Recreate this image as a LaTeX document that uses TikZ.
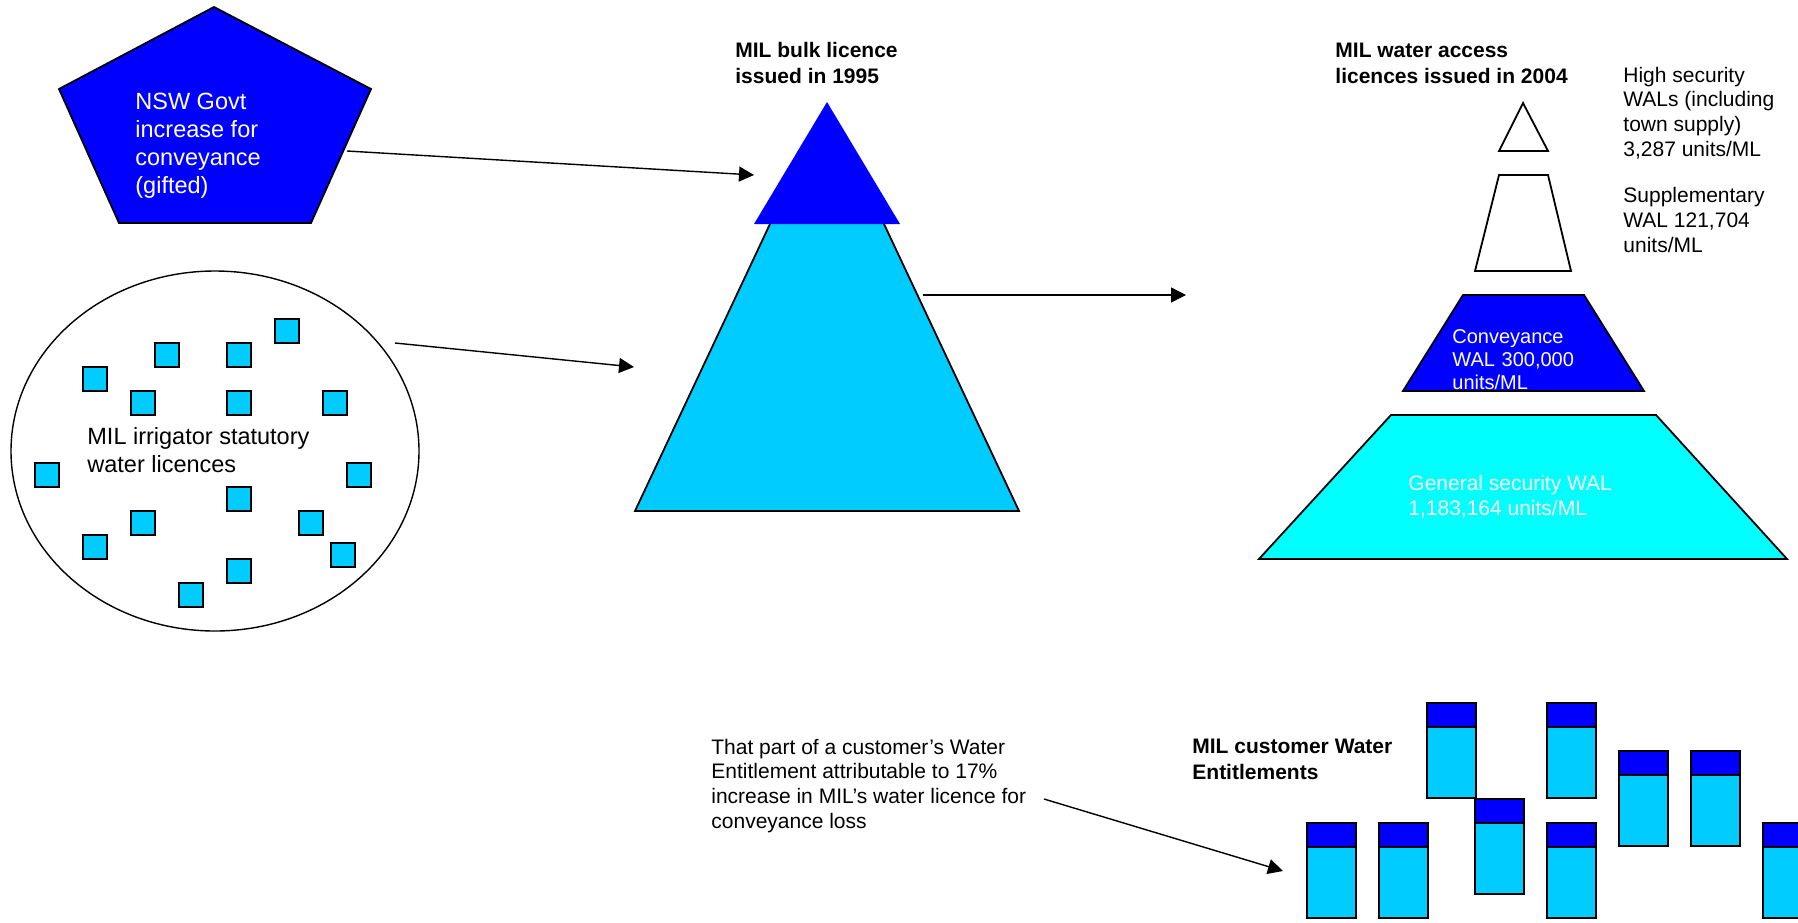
\documentclass[tikz,border=0pt]{standalone}
\usepackage{fontspec}
\setmainfont{Liberation Sans}
\usetikzlibrary{arrows.meta,shapes.geometric}

\definecolor{deepblue}{HTML}{0000FF}
\definecolor{skyblue}{HTML}{00CCFF}
\definecolor{aquablue}{HTML}{00FFFF}

\tikzset{
  arr/.style={line width=0.7pt,-{Triangle[length=7.5pt,width=7.5pt]}},
  outline/.style={draw=black,line width=0.9pt},
  licbox/.style={draw=black,fill=skyblue,line width=0.9pt},
  barline/.style={draw=black,line width=1pt},
  % placed at the baseline of the last line
  lab/.style={anchor=base west,inner sep=0pt,align=left,font=\fontsize{10.5}{12.3}\selectfont},
  biglab/.style={lab,font=\fontsize{11.75}{14}\selectfont},
  boldlab/.style={lab,font=\fontsize{10.5}{12.8}\selectfont\bfseries},
}

\begin{document}
\begin{tikzpicture}[x=0.5pt,y=-0.5pt]
	% one unit = one pixel of the picture, y runs downwards
	\useasboundingbox (0,0) rectangle (1798,922);
	\clip (0,0) rectangle (1798,922);

	% NSW Govt pentagon
	\draw[outline,fill=deepblue] (214,7) -- (371,89) -- (311,223) -- (119,223) -- (59,89) -- cycle;
	\node[biglab,text=white] (govt) at (135,193) {NSW Govt\\increase for\\conveyance\\(gifted)};

	% pool of statutory licences
	\node[ellipse,draw,line width=0.7pt,minimum width=204pt,minimum height=180pt,inner sep=0pt] (pool) at (215,451) {};
	\foreach \x/\y in {275/319,155/343,227/343,83/367,131/391,227/391,323/391,35/463,
		347/463,227/487,131/511,299/511,83/535,331/543,227/559,179/583}
		\draw[licbox] (\x,\y) rectangle ++(24,24);
	\node[biglab] (irrig) at (87,472) {MIL irrigator statutory\\water licences};

	% bulk licence 1995
	% fill closes the path, draw leaves the top edge open
	\draw[outline,fill=skyblue] (770,224) -- (635,511) -- (1019,511) -- (884,224);
	\fill[deepblue] (827,102) -- (900,224) -- (754,224) -- cycle;
	\node[boldlab] (bulk) at (735,83) {MIL bulk licence\\issued in 1995};

	% water access licences 2004
	\draw[outline,fill=white] (1523,103) -- (1548,151) -- (1499,151) -- cycle;
	\draw[outline,fill=white] (1499,175) -- (1548,175) -- (1571,271) -- (1475,271) -- cycle;
	\draw[outline,fill=deepblue] (1463,295) -- (1584,295) -- (1644,391) -- (1403,391) -- cycle;
	\draw[outline,fill=aquablue] (1391,415) -- (1656,415) -- (1787,559) -- (1259,559) -- cycle;
	\node[boldlab] (wal) at (1335,83) {MIL water access\\licences issued in 2004};
	\node[lab] (high) at (1623,156) {High security\\WALs (including\\town supply)\\3,287 units/ML};
	\node[lab] (supp) at (1623,252) {Supplementary\\WAL 121,704\\units/ML};
	% text width puts the base on the first line here
	\node[lab,text=white,fill=deepblue,font=\fontsize{10}{11.5}\selectfont,text width=72pt] (conv) at (1452,343) {Conveyance\\WAL 300,000\\units/ML};
	\node[lab,text=white] (gen) at (1408,515) {General security WAL\\1,183,164 units/ML};

	% customer entitlements
	\node[lab] (note) at (711,828) {That part of a customer’s Water\\Entitlement attributable to 17\%\\increase in MIL’s water licence for\\conveyance loss};
	\node[boldlab] (cust) at (1192,779) {MIL customer Water\\Entitlements};
	\foreach \x/\y in {1307/823,1379/823,1427/703,1475/799,1547/703,1547/823,1619/751,1691/751,1763/823}{
		\draw[barline,fill=deepblue] (\x,\y) rectangle ++(49,24);
		\draw[barline,fill=skyblue] (\x,\y+24) rectangle ++(49,71);
	}

	% free ends of the arrows
	\coordinate (govt-out) at (347,151);
	\coordinate (bulk-top-in) at (754,175);
	\coordinate (pool-out) at (395,343);
	\coordinate (bulk-in) at (634,367);
	\coordinate (bulk-out) at (923,295);
	\coordinate (wal-in) at (1186,295);
	\coordinate (note-out) at (1044,799);
	\coordinate (bar-in) at (1283,871);

	\draw[arr] (govt-out) -- (bulk-top-in);
	\draw[arr] (pool-out) -- (bulk-in);
	\draw[arr] (bulk-out) -- (wal-in);
	\draw[arr] (note-out) -- (bar-in);
\end{tikzpicture}
\end{document}
